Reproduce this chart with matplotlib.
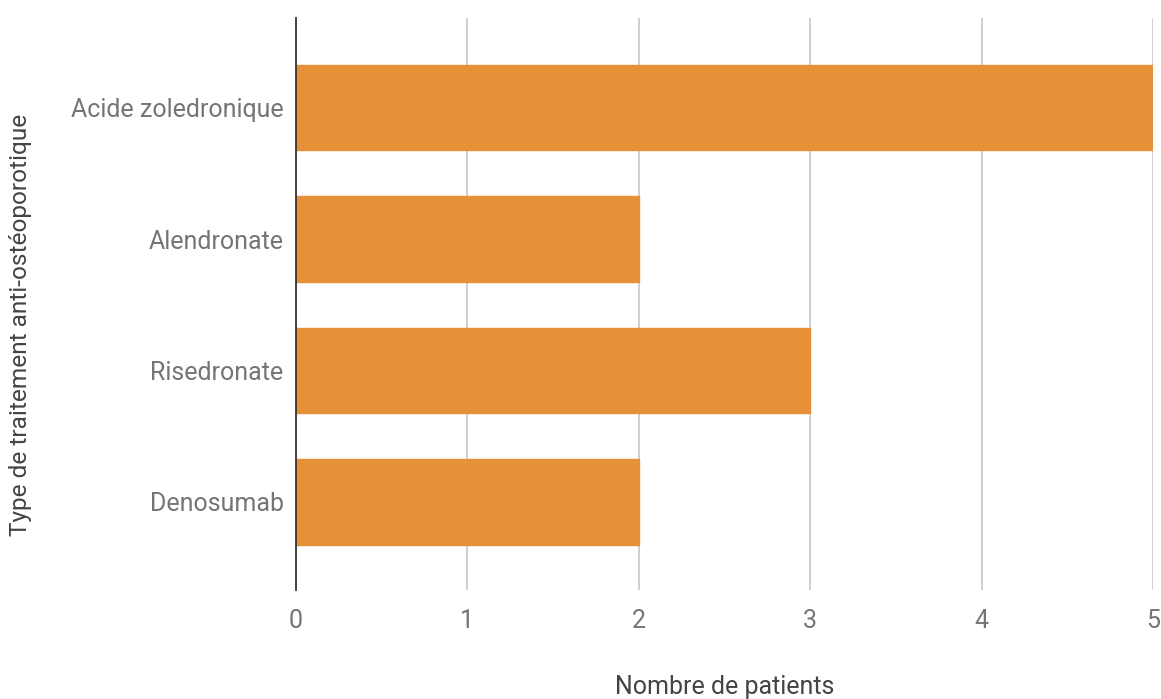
import matplotlib.pyplot as plt

# -------------------------
# Data
# -------------------------
traitements = ["Acide zoledronique", "Alendronate", "Risedronate", "Denosumab"]
patients = [5, 2, 3, 2]
x_ticks = [0, 1, 2, 3, 4, 5]

plt.rcParams["font.family"] = ["Roboto", "DejaVu Sans"]

# -------------------------
# Plot
# -------------------------
fig = plt.figure(figsize=(11.61, 6.99), dpi=100)
ax = fig.add_axes([0.255, 0.156, 0.738, 0.818])

pos = list(range(len(traitements)))
ax.barh(pos, patients, height=0.65, color="#E69138",
        edgecolor="#E69138", linewidth=1, joinstyle="round", zorder=3)

ax.set_xlim(0, 5)
ax.set_ylim(3.67, -0.68)
ax.set_xticks(x_ticks)
ax.set_yticks(pos)
ax.set_yticklabels(traitements)

ax.grid(axis="x", color="#CCCCCC", linewidth=1.3, zorder=0)
for s in ["top", "right", "bottom"]:
    ax.spines[s].set_visible(False)
ax.spines["left"].set_color("#333333")
ax.spines["left"].set_linewidth(1.3)
ax.spines["left"].set_zorder(4)

ax.tick_params(axis="both", length=0, labelsize=18, labelcolor="#757575")
ax.tick_params(axis="y", pad=9)
ax.tick_params(axis="x", pad=14)

ax.set_xlabel("Nombre de patients", fontsize=18, color="#444444", labelpad=30)
ax.set_ylabel("Type de traitement anti-ostéoporotique", fontsize=17.6,
              color="#444444", labelpad=28, y=0.463)

plt.savefig("out.png", dpi=100)
